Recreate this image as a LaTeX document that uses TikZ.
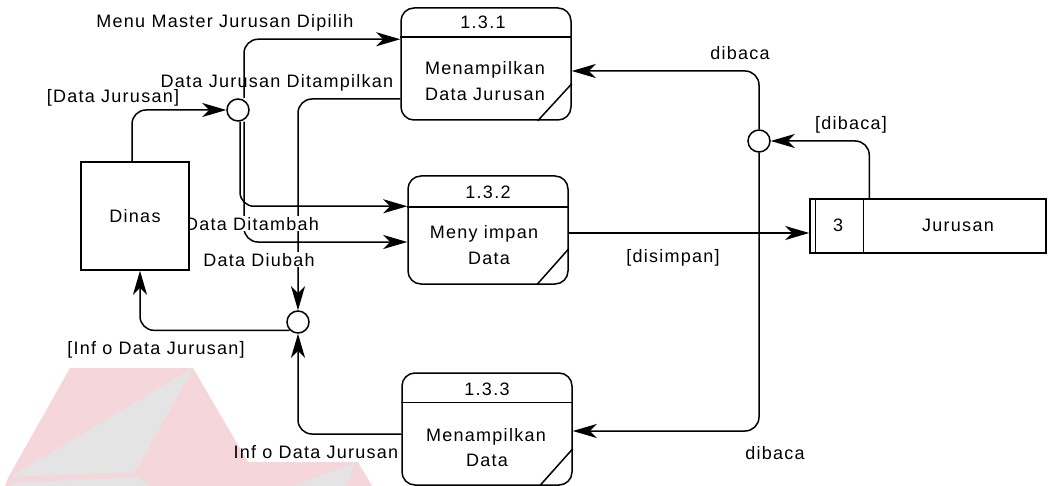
\documentclass[tikz,border=0pt]{standalone}
\usepackage{fontspec}
\setmainfont{Liberation Sans}[LetterSpace=7]
\usetikzlibrary{arrows.meta,calc,backgrounds}
\definecolor{wmpink}{RGB}{245,214,219}
\definecolor{wmgrey}{RGB}{228,228,228}
\begin{document}
\begin{tikzpicture}[x=1pt,y=-1pt,line width=1.5pt,
  every node/.style={font=\fontsize{18pt}{20pt}\selectfont},
  proc/.style={draw,fill=white,rounded corners=13pt,inner sep=0pt},
  circ/.style={circle,draw,fill=white,minimum size=22pt,inner sep=0pt},
  lbl/.style={inner sep=1pt,anchor=base},
  wlbl/.style={lbl,fill=white},
  arr/.style={line width=1.5pt,-{Stealth[length=24pt,width=14pt,inset=7pt]},rounded corners=14pt}]
\useasboundingbox (0,0) rectangle (1048,486);

% processes
\node[proc,minimum width=170pt,minimum height=112pt] (p1) at (486,64) {};
\draw ([yshift=-30pt]p1.north west) -- ([yshift=-30pt]p1.north east);
\draw ([xshift=-34pt]p1.south east) -- ([yshift=37pt]p1.south east);
\node[lbl] (p1id) at (483,29) {1.3.1};
\node[lbl] (p1a) at (485,75) {Menampilkan};
\node[lbl] (p1b) at (485,101) {Data Jurusan};

\node[proc,minimum width=160pt,minimum height=108pt] (p2) at (488,230) {};
\draw ([yshift=-32pt]p2.north west) -- ([yshift=-32pt]p2.north east);
\draw ([xshift=-32pt]p2.south east) -- ([yshift=36pt]p2.south east);
\node[lbl] (p2id) at (488,199) {1.3.2};
\node[lbl] (p2a) at (484,238) {Meny impan};
\node[lbl] (p2b) at (489,264) {Data};

\node[proc,minimum width=170pt,minimum height=112pt] (p3) at (487,429) {};
\draw ([yshift=-30pt]p3.north west) -- ([yshift=-30pt]p3.north east);
\draw ([xshift=-33pt]p3.south east) -- ([yshift=37pt]p3.south east);
\node[lbl] (p3id) at (487,395) {1.3.3};
\node[lbl] (p3a) at (486,441) {Menampilkan};
\node[lbl] (p3b) at (487,466) {Data};

% data store
\node[draw,fill=white,minimum width=236pt,minimum height=54pt,inner sep=0pt] (store) at (928,226) {};
\draw ([xshift=6pt]store.north west) -- ([xshift=6pt]store.south west);
\draw ([xshift=54pt]store.north west) -- ([xshift=54pt]store.south west);
\node[lbl] (sid) at (838,232) {3};
\node[lbl] (sname) at (958,232) {Jurusan};

% junctions
\node[circ] (c1) at (238,110) {};
\node[circ] (c2) at (298,322) {};
\node[circ] (c3) at (759,141) {};

% labels
\node[lbl] (l1) at (225,28) {Menu Master Jurusan Dipilih};
\node[lbl] (l2) at (277,88) {Data Jurusan Ditampilkan};
\node[wlbl] (l3) at (113,103) {[Data Jurusan]};
\node[wlbl] (l4) at (252,230) {Data Ditambah};
\node[wlbl] (l5) at (259,266) {Data Diubah};
\node[lbl] (l6) at (156,354) {[Inf o Data Jurusan]};
\node[lbl,anchor=base east] (l7) at (400,458) {Inf o Data Jurusan};
\node[lbl] (l8) at (740,60) {dibaca};
\node[lbl] (l9) at (851,130) {[dibaca]};
\node[lbl] (l10) at (673,262) {[disimpan]};
\node[lbl] (l11) at (775,459) {dibaca};

% external entity (drawn after labels so it covers them)
\node[draw,fill=white,minimum width=108pt,minimum height=108pt,inner sep=0pt] (dinas) at (135,216) {Dinas};

\begin{scope}[on background layer]
  % faint watermark
  \fill[wmpink] (70,368) -- (193,368) -- (262,486) -- (5,486) -- (8,478) -- cycle;
  \fill[wmgrey] (193,368) -- (10,477) -- (135,472) -- cycle;
  \fill[wmgrey] (12,483) -- (138,477) -- (150,486) -- (12,486) -- cycle;
  \fill[wmpink] (248,462) -- (358,462) -- (372,486) -- (236,486) -- cycle;
  \fill[wmgrey] (355,463) -- (292,486) -- (346,486) -- cycle;
  % flows
  \draw[arr] ([xshift=-3pt]dinas.north) |- (c1.west);
  \draw[arr] ([xshift=6pt]c1.north) |- ([yshift=-32pt]p1.north west);
  \draw[arr] ([xshift=2pt]c1.south) |- ([yshift=-31pt]p2.north west);
  \draw[arr] ([xshift=6pt]c1.south) |- ([yshift=-12pt]p2.west);
  \draw[arr] ([yshift=-35pt]p1.west) -| (c2.north);
  \draw[arr] (c2.225) -| ([xshift=5pt]dinas.south);
  \draw[arr] ([yshift=-5pt]p3.west) -| (c2.south);
  \draw[arr] ([yshift=-3pt]p2.east) -- ([yshift=-7pt]store.west);
  \draw[arr] ([xshift=60pt]store.north west) |- (c3.east);
  \draw[arr] (c3.north) |- ([yshift=-7pt]p1.east);
  \draw[arr] (c3.south) |- ([yshift=-2pt]p3.east);
\end{scope}
\end{tikzpicture}
\end{document}
